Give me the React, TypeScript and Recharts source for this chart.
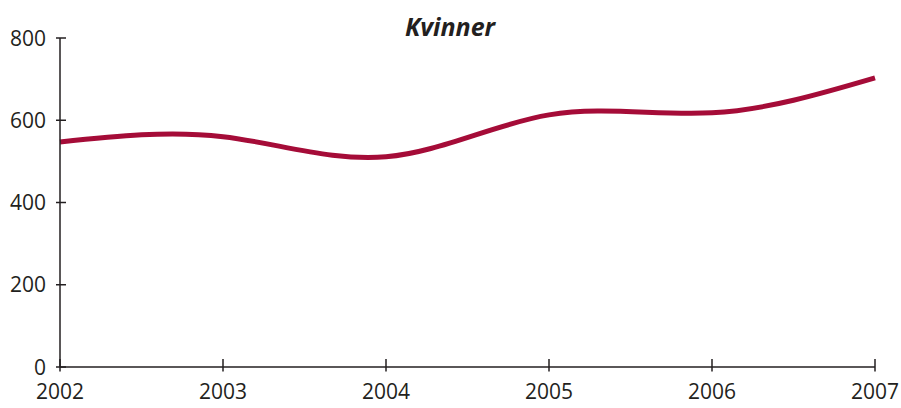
import { LineChart, Line, XAxis, YAxis } from 'recharts'

const years = [2002, 2003, 2004, 2005, 2006, 2007]
const kvinner = [547, 560, 511, 613, 618, 703]
const yTicks = [0, 200, 400, 600, 800]

const data = years.map((year, i) => ({ year, kvinner: kvinner[i] }))

const AXIS = '#231f20'
const LINE = '#a50c38'
const FONT = '"Open Sans", sans-serif'

const XTick = ({ x, y, payload }: any) => (
    <g>
        <line x1={x} x2={x} y1={y - 8} y2={y + 4.5} stroke={AXIS} strokeWidth={1.5} />
        <text x={x} y={y + 32} textAnchor="middle" fontSize={21} fontFamily={FONT} fill={AXIS}>
            {payload.value}
        </text>
    </g>
)

const YTick = ({ x, y, payload }: any) => (
    <g>
        <line x1={x - 4} x2={x + 6} y1={y} y2={y} stroke={AXIS} strokeWidth={1.5} />
        <text x={x - 14} y={y + 7.5} textAnchor="end" fontSize={21} fontFamily={FONT} fill={AXIS}>
            {payload.value}
        </text>
    </g>
)

export default function App() {
    return (
        <div style={{ position: 'absolute', left: 0, top: 0, width: 901, height: 408, background: '#fff' }}>
            <LineChart width={901} height={408} data={data} margin={{ top: 38, right: 26, bottom: 1, left: 0 }}>
                <text x={450} y={36} textAnchor="middle" fontSize={25} fontWeight={700} fontStyle="italic"
                    fontFamily={FONT} fill={AXIS}>
                    Kvinner
                </text>
                <XAxis dataKey="year" type="number" domain={[2002, 2007]} ticks={years}
                    tick={<XTick />} tickLine={false} tickSize={0} tickMargin={0} height={40}
                    axisLine={{ stroke: AXIS, strokeWidth: 1.5 }} />
                <YAxis type="number" domain={[0, 800]} ticks={yTicks} width={60}
                    tick={<YTick />} tickLine={false} tickSize={0} tickMargin={0}
                    axisLine={{ stroke: AXIS, strokeWidth: 1.5 }} />
                <Line type="natural" dataKey="kvinner" stroke={LINE} strokeWidth={5} dot={false}
                    isAnimationActive={false} />
            </LineChart>
        </div>
    )
}
